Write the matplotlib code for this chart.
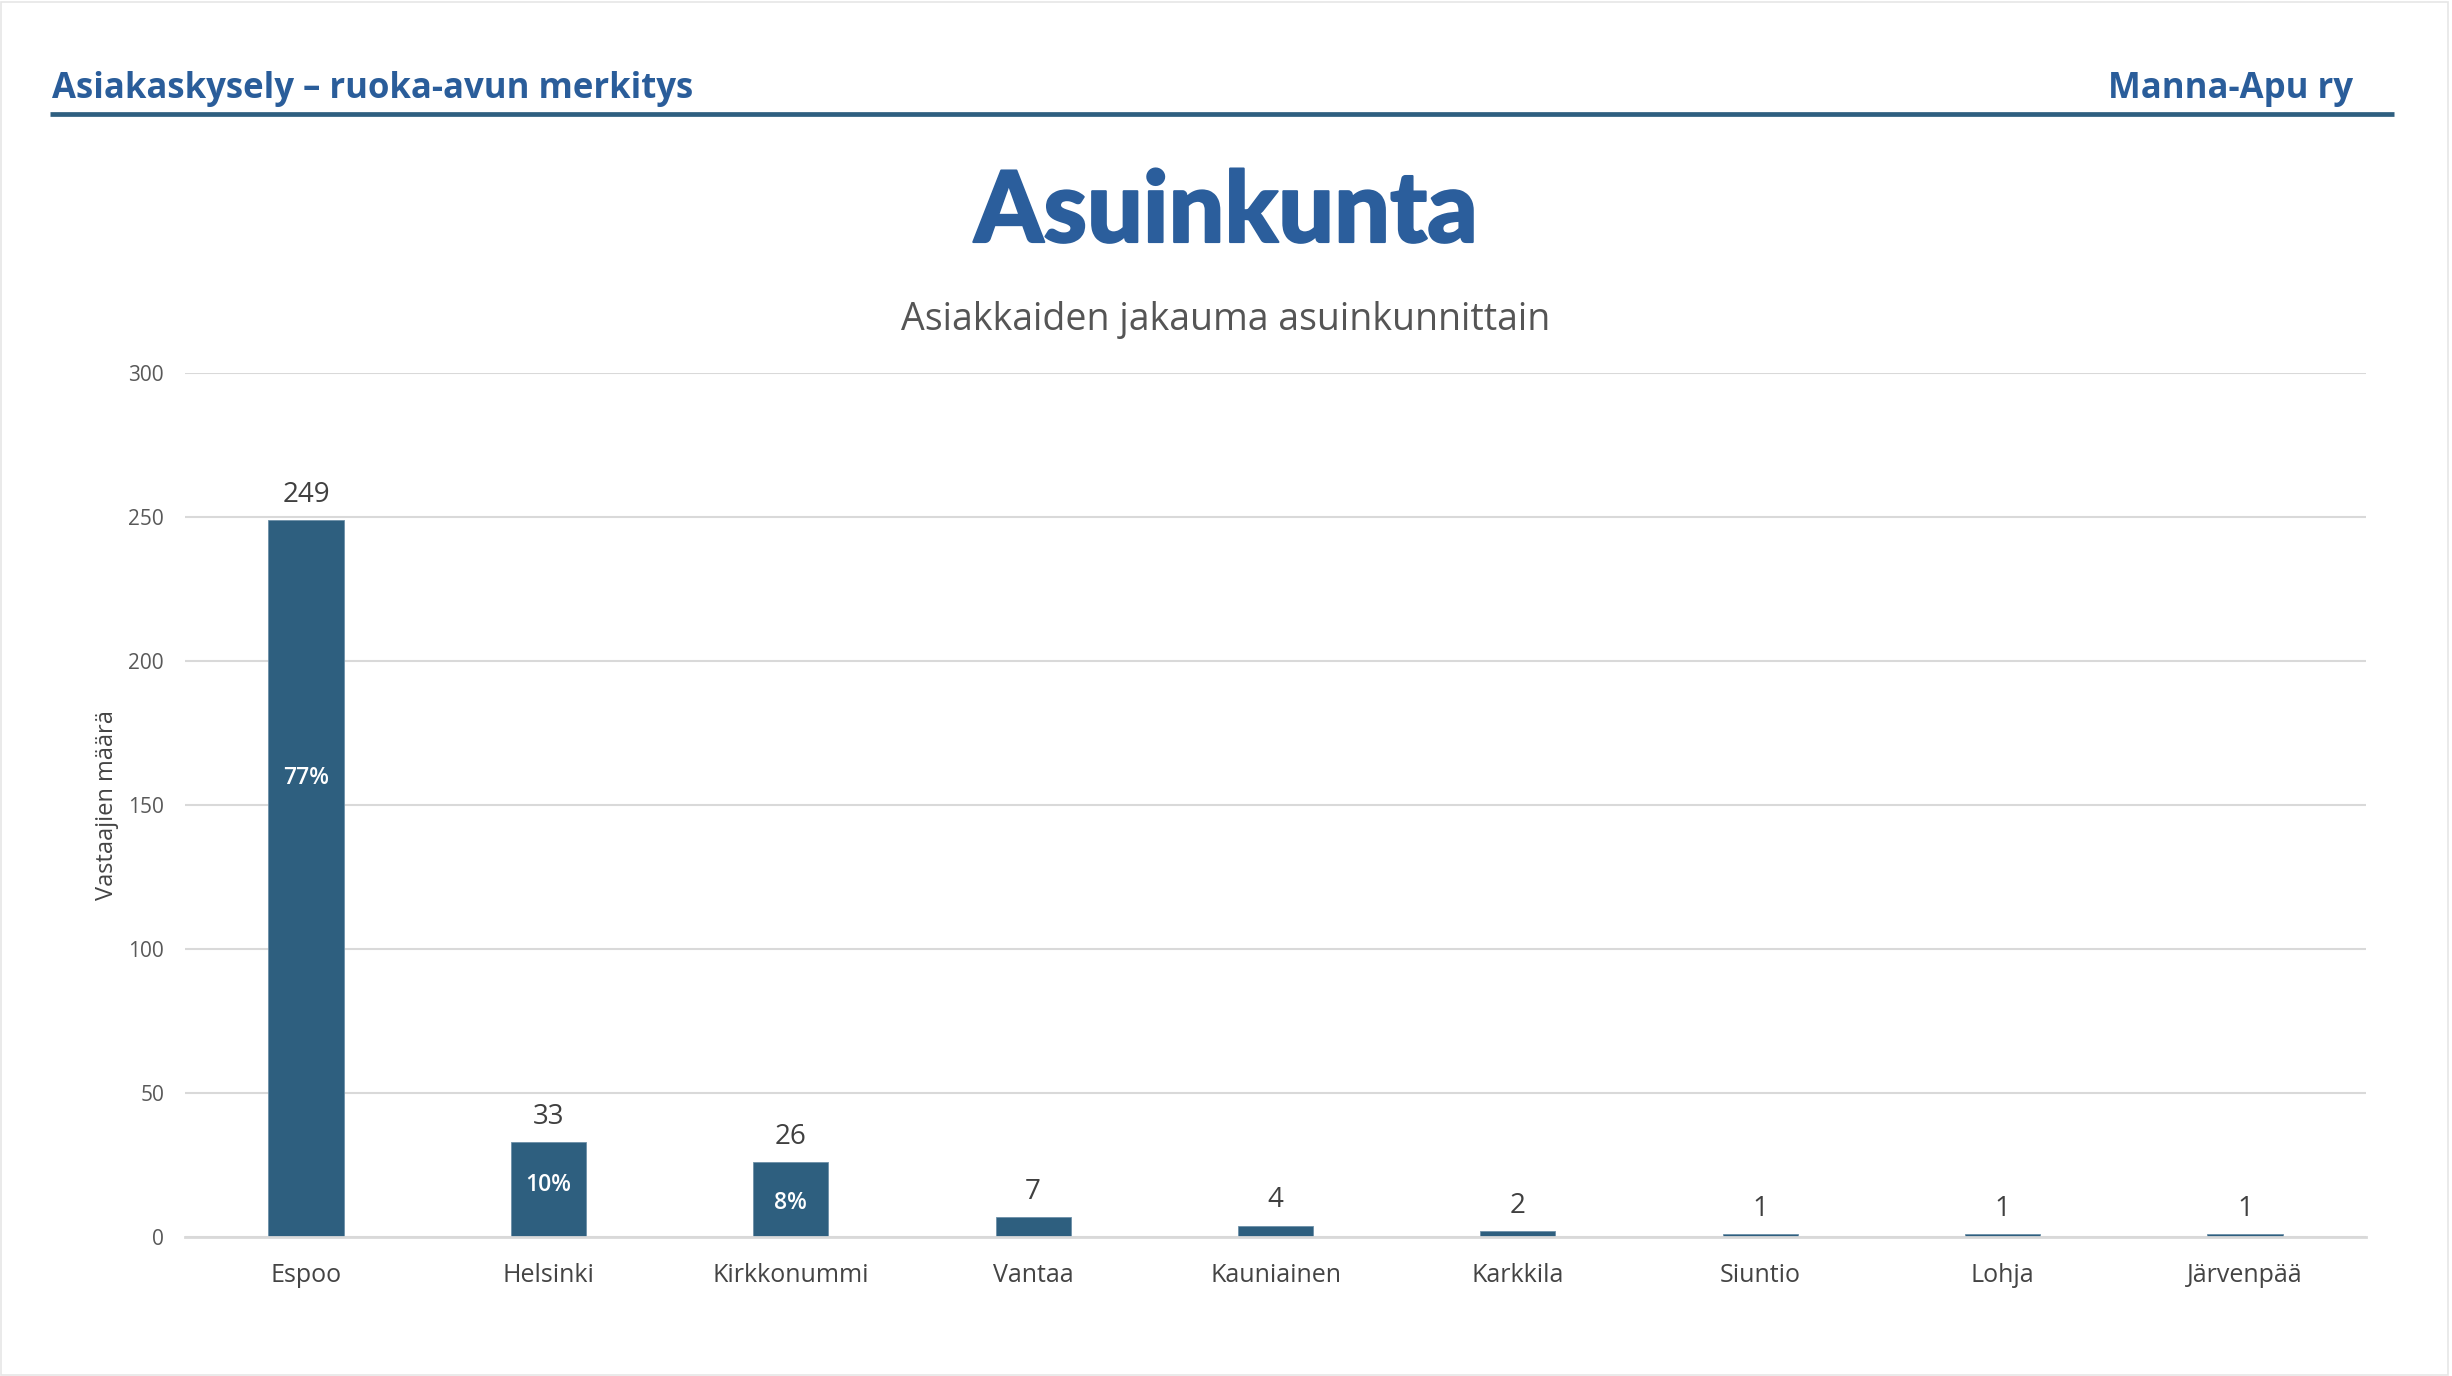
import matplotlib.pyplot as plt
import matplotlib.patheffects as pe
from matplotlib.lines import Line2D
from matplotlib.patches import Rectangle

# Data
municipalities = ["Espoo", "Helsinki", "Kirkkonummi", "Vantaa", "Kauniainen",
                  "Karkkila", "Siuntio", "Lohja", "Järvenpää"]
respondents = [249, 33, 26, 7, 4, 2, 1, 1, 1]
y_ticks = [0, 50, 100, 150, 200, 250, 300]

header_left = "Asiakaskysely – ruoka-avun merkitys"
header_right = "Manna-Apu ry"
title = "Asuinkunta"
subtitle = "Asiakkaiden jakauma asuinkunnittain"
y_label = "Vastaajien määrä"

bar_color = "#2e5f7f"
head_blue = "#2a5d9a"
base_font = ["Open Sans", "DejaVu Sans"]

plt.rcParams["font.family"] = base_font

fig = plt.figure(figsize=(24.52, 13.76), dpi=100)
fig.patch.set_facecolor("white")

# slide border
fig.add_artist(Rectangle((0.0005, 0.0005), 0.998, 0.998, transform=fig.transFigure,
                         fill=False, edgecolor="#e6e6e6", lw=1.2))

# header
fig.text(0.0212, 0.9288, header_left, fontsize=25, fontweight="bold",
         color=head_blue, va="baseline", ha="left")
fig.text(0.9596, 0.9288, header_right, fontsize=25, fontweight="bold",
         color=head_blue, va="baseline", ha="right")
fig.add_artist(Line2D([0.0204, 0.9763], [0.9172, 0.9172], transform=fig.transFigure,
                      color="#2e5f80", lw=3.4, solid_capstyle="butt"))

title_color = "#2b5e9c"
fig.text(0.5, 0.8241, title, fontsize=71, fontweight="black", color=title_color,
         va="baseline", ha="center", family=["Lato", "DejaVu Sans"],
         path_effects=[pe.withStroke(linewidth=1.5, foreground=title_color,
                                     capstyle="round", joinstyle="round")])
fig.text(0.5, 0.7602, subtitle, fontsize=27, color="#555555",
         va="baseline", ha="center")

ax = fig.add_axes([0.0754, 0.101, 0.8896, 0.628])
x = range(len(municipalities))
bars = ax.bar(x, respondents, width=0.31, color=bar_color,
              edgecolor="#6d90a8", linewidth=0.6, zorder=3)

ax.set_xlim(-0.5, len(municipalities) - 0.5)
ax.set_ylim(0, 300)
ax.set_yticks(y_ticks)
ax.set_xticks(list(x))
ax.set_xticklabels(municipalities)
ax.tick_params(axis="y", length=0, pad=15, labelsize=15, labelcolor="#595959")
ax.tick_params(axis="x", length=0, pad=19, labelsize=18, labelcolor="#444444")
ax.grid(axis="y", color="#d9d9d9", lw=1.5, zorder=0)
for s in ["top", "right", "left"]:
    ax.spines[s].set_visible(False)
ax.spines["bottom"].set_color("#d9d9d9")
ax.spines["bottom"].set_linewidth(2)
ax.spines["bottom"].set_zorder(4)

ax.set_ylabel(y_label, fontsize=17, color="#444444")
ax.yaxis.set_label_coords(-0.030, 0.5)

# value labels
for rect, v in zip(bars, respondents):
    ax.annotate(str(v), (rect.get_x() + rect.get_width() / 2, v),
                xytext=(0, 8), textcoords="offset points",
                ha="center", va="bottom", fontsize=20, color="#404040")

# share labels inside the big bars
total = sum(respondents)
pct_height = [0.64, 0.55, 0.46]
for rect, v, h in zip(bars, respondents, pct_height):
    share = v / total * 100
    if share >= 5:
        ax.text(rect.get_x() + rect.get_width() / 2, v * h, f"{share:.0f}%",
                ha="center", va="center", fontsize=16.5, color="white",
                fontweight="semibold", zorder=5)

fig.savefig("out.png", dpi=100)
